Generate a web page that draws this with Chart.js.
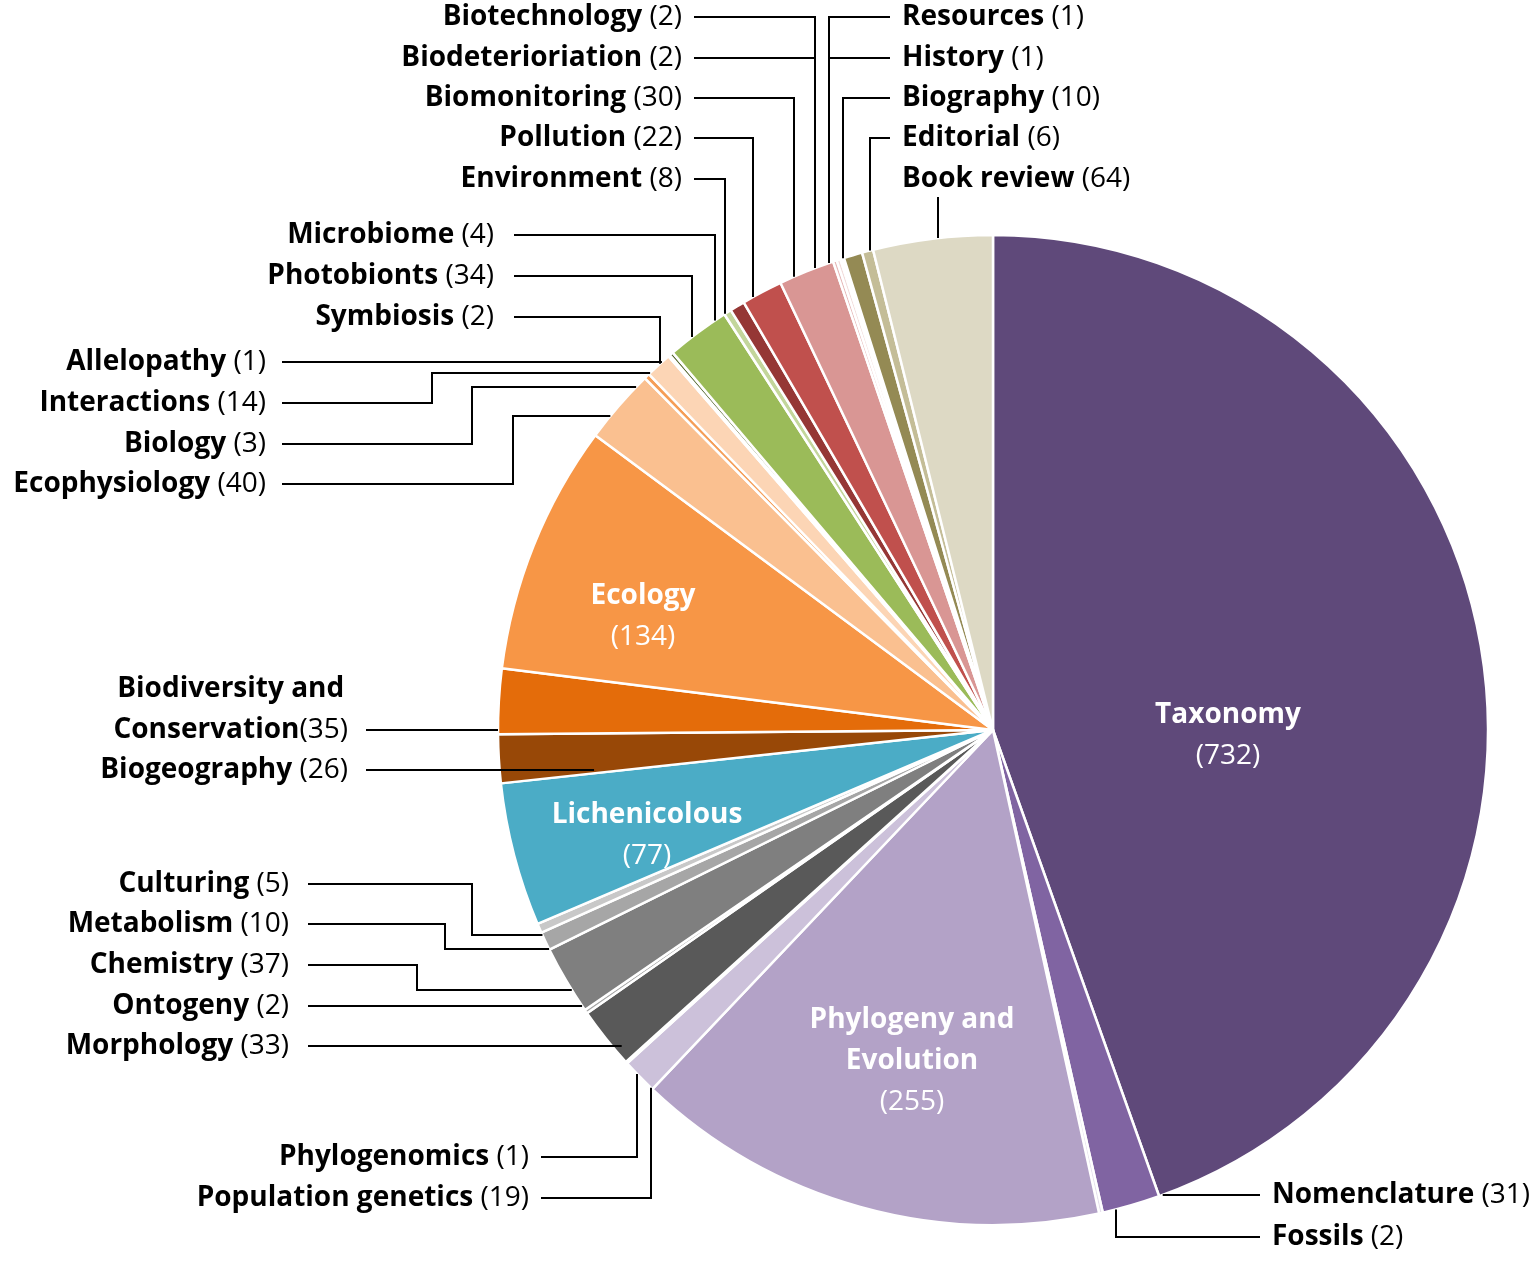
<!DOCTYPE html>
<html>
<head>
<meta charset="utf-8">
<title>Topics</title>
<script src="https://cdn.jsdelivr.net/npm/chart.js@4.4.1/dist/chart.umd.min.js"></script>
<style>
    html, body { margin: 0; padding: 0; background: #ffffff; }
</style>
</head>
<body>
<canvas id="topicChart" width="1536" height="1262"></canvas>
<script>
// slices, clockwise from 12 o'clock
const topics = ['Taxonomy', 'Nomenclature', 'Fossils', 'Phylogeny and Evolution', 'Population genetics',
    'Phylogenomics', 'Morphology', 'Ontogeny', 'Chemistry', 'Metabolism', 'Culturing', 'Lichenicolous',
    'Biogeography', 'Biodiversity and Conservation', 'Ecology', 'Ecophysiology', 'Biology', 'Interactions',
    'Allelopathy', 'Symbiosis', 'Photobionts', 'Microbiome', 'Environment', 'Pollution', 'Biomonitoring',
    'Biodeterioriation', 'Biotechnology', 'Resources', 'History', 'Biography', 'Editorial', 'Book review'];
const counts = [732, 31, 2, 255, 19, 1, 33, 2, 37, 10, 5, 77, 26, 35, 134, 40, 3, 14, 1, 2, 34, 4, 8, 22, 30,
    2, 2, 1, 1, 10, 6, 64];
const sliceColors = ['#5F497A', '#8064A2', '#E5E0EC', '#B3A2C7', '#CCC1DA', '#E5E0EC', '#595959', '#A6A6A6',
    '#7F7F7F', '#A6A6A6', '#C8C8C8', '#4BACC6', '#984807', '#E46C0A', '#F79646', '#FAC090', '#F59D56',
    '#FCD5B5', '#95B3D7', '#4F6228', '#9BBB59', '#C3D69B', '#953735', '#C0504D', '#D99694', '#E6B9B8',
    '#F2DCDB', '#4A452A', '#DDD9C4', '#948A54', '#C4BD97', '#DDD9C4'];

// topics written inside their slice
const insideTopics = ['Taxonomy', 'Phylogeny and Evolution', 'Ecology', 'Lichenicolous'];

const FONT = '"Open Sans", Lato, sans-serif';
const FONT_SIZE = 28;

// where the outside labels sit and how their leader lines run
// align 'right': text ends at x, line goes right; align 'left': text starts at x, line goes left
// kind h: straight to the rim, v: across then down/up to the rim, e: across, vertical to ey, across to rim,
// d: straight down from under the text to the rim
const outsideLayout = [
    { topic: 'Biotechnology', x: 682, y: 17, align: 'right', kind: 'v', ex: 815 },
    { topic: 'Biodeterioriation', x: 682, y: 58, align: 'right', kind: 'v', ex: 815 },
    { topic: 'Biomonitoring', x: 682, y: 98, align: 'right', kind: 'v', ex: 794 },
    { topic: 'Pollution', x: 682, y: 138, align: 'right', kind: 'v', ex: 753 },
    { topic: 'Environment', x: 682, y: 179, align: 'right', kind: 'v', ex: 725 },
    { topic: 'Resources', x: 902, y: 17, align: 'left', kind: 'v', ex: 829 },
    { topic: 'History', x: 902, y: 58, align: 'left', kind: 'v', ex: 829 },
    { topic: 'Biography', x: 902, y: 98, align: 'left', kind: 'v', ex: 843 },
    { topic: 'Editorial', x: 902, y: 138, align: 'left', kind: 'v', ex: 870 },
    { topic: 'Book review', x: 902, y: 179, align: 'left', kind: 'd', ex: 938 },
    { topic: 'Microbiome', x: 494, y: 235, align: 'right', gap: 20, kind: 'v', ex: 715 },
    { topic: 'Photobionts', x: 494, y: 276, align: 'right', gap: 20, kind: 'v', ex: 692 },
    { topic: 'Symbiosis', x: 494, y: 317, align: 'right', gap: 20, kind: 'v', ex: 660 },
    { topic: 'Allelopathy', x: 266, y: 362, align: 'right', gap: 16, kind: 'h' },
    { topic: 'Interactions', x: 266, y: 403, align: 'right', gap: 16, kind: 'e', ex: 432, ey: 373 },
    { topic: 'Biology', x: 266, y: 444, align: 'right', gap: 16, kind: 'e', ex: 472, ey: 387 },
    { topic: 'Ecophysiology', x: 266, y: 484, align: 'right', gap: 16, kind: 'e', ex: 513, ey: 416 },
    { topic: 'Biodiversity and Conservation', x: 348, y: 730, align: 'right', gap: 18, kind: 'h',
        wrap: ['Biodiversity and', 'Conservation'] },
    { topic: 'Biogeography', x: 348, y: 770, align: 'right', gap: 18, kind: 'h', depth: 0.81 },
    { topic: 'Culturing', x: 289, y: 884, align: 'right', gap: 19, kind: 'e', ex: 472, ey: 935 },
    { topic: 'Metabolism', x: 289, y: 924, align: 'right', gap: 19, kind: 'e', ex: 445, ey: 949 },
    { topic: 'Chemistry', x: 289, y: 965, align: 'right', gap: 19, kind: 'e', ex: 417, ey: 990 },
    { topic: 'Ontogeny', x: 289, y: 1006, align: 'right', gap: 19, kind: 'h' },
    { topic: 'Morphology', x: 289, y: 1046, align: 'right', gap: 19, kind: 'h', depth: 0.985 },
    { topic: 'Phylogenomics', x: 529, y: 1157, align: 'right', kind: 'v', ex: 637 },
    { topic: 'Population genetics', x: 529, y: 1198, align: 'right', kind: 'v', ex: 651 },
    { topic: 'Nomenclature', x: 1272, y: 1195, align: 'left', kind: 'h' },
    { topic: 'Fossils', x: 1272, y: 1237, align: 'left', kind: 'v', ex: 1116 }
];

// centre of each inside label block and its lines
const insideLayout = [
    { topic: 'Taxonomy', x: 1228, y: 715, lines: ['Taxonomy'] },
    { topic: 'Phylogeny and Evolution', x: 912, y: 1020, lines: ['Phylogeny and', 'Evolution'] },
    { topic: 'Ecology', x: 643, y: 596, lines: ['Ecology'] },
    { topic: 'Lichenicolous', x: 647, y: 815, lines: ['Lichenicolous'] }
];

function boldFont() { return 'bold ' + FONT_SIZE + 'px ' + FONT; }
function normFont() { return FONT_SIZE + 'px ' + FONT; }

// draws "bold part" + "regular part" on one line
function drawMixed(ctx, bold, reg, x, y, align, color) {
    ctx.font = boldFont();
    const wb = ctx.measureText(bold).width;
    ctx.font = normFont();
    const wr = ctx.measureText(reg).width;
    let start = x;
    if (align === 'right') start = x - wb - wr;
    else if (align === 'center') start = x - (wb + wr) / 2;
    ctx.fillStyle = color;
    ctx.textAlign = 'left';
    ctx.textBaseline = 'middle';
    ctx.font = boldFont();
    ctx.fillText(bold, start, y);
    ctx.font = normFont();
    ctx.fillText(reg, start + wb, y);
}

const labelPlugin = {
    id: 'labelPlugin',
    afterDraw(chart) {
        const ctx = chart.ctx;
        const first = chart.getDatasetMeta(0).data[0];
        const cx = first.x, cy = first.y, r = first.outerRadius;

        ctx.save();
        ctx.strokeStyle = '#000000';
        ctx.lineWidth = 2;
        ctx.lineJoin = 'miter';

        for (const l of outsideLayout) {
            const i = topics.indexOf(l.topic);
            const value = '(' + counts[i] + ')';
            const gap = l.gap || 12;
            const dir = l.align === 'right' ? 1 : -1;
            const sx = l.x + dir * gap;
            const depth = (l.depth || 1) * r;
            const rimX = yy => cx - dir * Math.sqrt(Math.max(depth * depth - (yy - cy) * (yy - cy), 0));
            const rimY = xx => cy + (l.y < cy ? -1 : 1) * Math.sqrt(Math.max(r * r - (xx - cx) * (xx - cx), 0));

            let pts;
            if (l.kind === 'h') pts = [[sx, l.y], [rimX(l.y), l.y]];
            else if (l.kind === 'v') pts = [[sx, l.y], [l.ex, l.y], [l.ex, rimY(l.ex)]];
            else if (l.kind === 'd') pts = [[l.ex, l.y + 18], [l.ex, rimY(l.ex)]];
            else pts = [[sx, l.y], [l.ex, l.y], [l.ex, l.ey], [rimX(l.ey), l.ey]];

            ctx.beginPath();
            ctx.moveTo(pts[0][0], pts[0][1]);
            for (let k = 1; k < pts.length; k++) ctx.lineTo(pts[k][0], pts[k][1]);
            ctx.stroke();

            if (l.wrap) {
                const lh = 41;
                // two centred lines, the second ends with the count
                ctx.font = boldFont();
                const w2b = ctx.measureText(l.wrap[1]).width;
                ctx.font = normFont();
                const w2 = w2b + ctx.measureText(value).width;
                const centre = l.x - w2 / 2;
                drawMixed(ctx, l.wrap[0], '', centre, l.y - lh, 'center', '#000000');
                drawMixed(ctx, l.wrap[1], value, centre, l.y, 'center', '#000000');
            } else {
                drawMixed(ctx, topics[i] + ' ', value, l.x, l.y, l.align, '#000000');
            }
        }

        for (const l of insideLayout) {
            const i = topics.indexOf(l.topic);
            if (insideTopics.indexOf(l.topic) < 0) continue;
            let y = l.y;
            for (const line of l.lines) {
                drawMixed(ctx, line, '', l.x, y, 'center', '#ffffff');
                y += 41;
            }
            drawMixed(ctx, '', '(' + counts[i] + ')', l.x, y, 'center', '#ffffff');
        }
        ctx.restore();
    }
};

new Chart(document.getElementById('topicChart').getContext('2d'), {
    type: 'pie',
    data: {
        labels: topics,
        datasets: [{
            data: counts,
            backgroundColor: sliceColors,
            borderColor: '#ffffff',
            borderWidth: 2.5
        }]
    },
    options: {
        responsive: false,
        animation: false,
        radius: 495,
        layout: { padding: { left: 450, top: 198, right: 0, bottom: 0 } },
        plugins: {
            legend: { display: false },
            tooltip: { enabled: false }
        }
    },
    plugins: [labelPlugin]
});
</script>
</body>
</html>
